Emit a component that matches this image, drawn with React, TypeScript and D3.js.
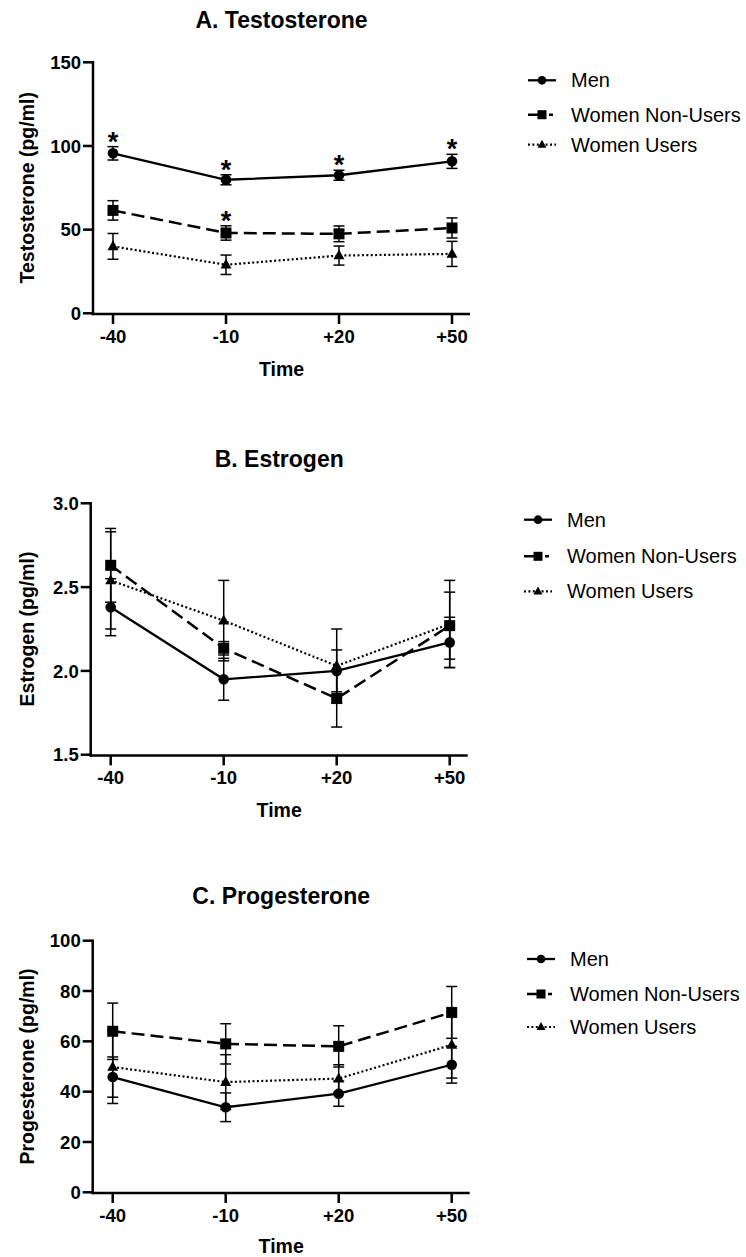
import React, { useEffect } from "react";
import * as d3 from "d3";

// ---------- DATA ----------
const times = ["-40", "-10", "+20", "+50"];
const groupNames = ["Men", "Women Non-Users", "Women Users"];

// A. Testosterone (pg/ml)
const testoMen = [95.6, 79.8, 82.5, 90.8];
const testoMenErr = [4.0, 3.0, 3.0, 4.2];
const testoNonUsers = [61.5, 48.0, 47.5, 51.0];
const testoNonUsersErr = [5.8, 4.3, 4.7, 6.0];
const testoUsers = [40.0, 29.0, 34.5, 35.5];
const testoUsersErr = [7.7, 5.8, 5.7, 7.5];
const testoMenStar = [true, true, true, true];
const testoNonUsersStar = [false, true, false, false];
const testoUsersStar = [false, false, false, false];
const testoTicks = [0, 50, 100, 150];

// B. Estrogen (pg/ml)
const estroMen = [2.38, 1.95, 2.0, 2.17];
const estroMenErr = [0.17, 0.125, 0.125, 0.15];
const estroNonUsers = [2.63, 2.135, 1.835, 2.27];
const estroNonUsersErr = [0.22, 0.04, 0.17, 0.2];
const estroUsers = [2.54, 2.3, 2.03, 2.28];
const estroUsersErr = [0.29, 0.24, 0.22, 0.26];
const estroTicks = [1.5, 2.0, 2.5, 3.0];

// C. Progesterone (pg/ml)
const progMen = [45.8, 33.8, 39.2, 50.7];
const progMenErr = [8.0, 5.7, 5.0, 7.3];
const progNonUsers = [64.0, 59.0, 58.0, 71.5];
const progNonUsersErr = [11.2, 8.0, 8.2, 10.3];
const progUsers = [49.8, 43.8, 45.2, 58.6];
const progUsersErr = [14.5, 10.9, 5.5, 13.2];
const progTicks = [0, 20, 40, 60, 80, 100];

const noStars = [false, false, false, false];

// ---------- STYLE / LAYOUT ----------
const FONT = "'Liberation Sans', Arial, Helvetica, sans-serif";
const INK = "#000";

const seriesStyles = [
  { dash: null as string | null, width: 2.3, marker: "circle" },
  { dash: "13,6", width: 2.5, marker: "square" },
  { dash: "2,2.4", width: 2.2, marker: "triangle" },
];

type Series = { mean: number[]; err: number[]; star: boolean[] };
type PanelDef = {
  title: string;
  yLabel: string;
  series: Series[];
  ticks: number[];
  tickFmt: (v: number) => string;
  axisX: number;
  yTop: number;
  yBottom: number;
  titleY: number;
  timeY: number;
  legendY: number[];
  legendX: number;
};

const panels: PanelDef[] = [
  {
    title: "A. Testosterone",
    yLabel: "Testosterone (pg/ml)",
    series: [
      { mean: testoMen, err: testoMenErr, star: testoMenStar },
      { mean: testoNonUsers, err: testoNonUsersErr, star: testoNonUsersStar },
      { mean: testoUsers, err: testoUsersErr, star: testoUsersStar },
    ],
    ticks: testoTicks,
    tickFmt: d3.format("d"),
    axisX: 93,
    yTop: 62.3,
    yBottom: 313.3,
    titleY: 28.3,
    timeY: 375.7,
    legendY: [87.3, 121.7, 151.7],
    legendX: 528,
  },
  {
    title: "B. Estrogen",
    yLabel: "Estrogen (pg/ml)",
    series: [
      { mean: estroMen, err: estroMenErr, star: noStars },
      { mean: estroNonUsers, err: estroNonUsersErr, star: noStars },
      { mean: estroUsers, err: estroUsersErr, star: noStars },
    ],
    ticks: estroTicks,
    tickFmt: d3.format(".1f"),
    axisX: 90.7,
    yTop: 503.3,
    yBottom: 754.7,
    titleY: 466.7,
    timeY: 816.7,
    legendY: [526.7, 563.3, 598.3],
    legendX: 524,
  },
  {
    title: "C. Progesterone",
    yLabel: "Progesterone (pg/ml)",
    series: [
      { mean: progMen, err: progMenErr, star: noStars },
      { mean: progNonUsers, err: progNonUsersErr, star: noStars },
      { mean: progUsers, err: progUsersErr, star: noStars },
    ],
    ticks: progTicks,
    tickFmt: d3.format("d"),
    axisX: 92.7,
    yTop: 940.7,
    yBottom: 1192.3,
    titleY: 904.3,
    timeY: 1252.5,
    legendY: [966, 1001, 1034],
    legendX: 527,
  },
];

function Marker({ kind, cx, cy, s = 1 }: { kind: string; cx: number; cy: number; s?: number }) {
  if (kind === "circle") return <circle cx={cx} cy={cy} r={5.3 * s} fill={INK} />;
  if (kind === "square") {
    const h = 5.5 * s;
    return <rect x={cx - h} y={cy - h} width={2 * h} height={2 * h} fill={INK} />;
  }
  const w = 5.5 * s;
  const path = d3.path();
  path.moveTo(cx, cy - 6 * s);
  path.lineTo(cx + w, cy + 3.8 * s);
  path.lineTo(cx - w, cy + 3.8 * s);
  path.closePath();
  return <path d={path.toString()} fill={INK} />;
}

function Panel({ p }: { p: PanelDef }) {
  const domain = [p.ticks[0], p.ticks[p.ticks.length - 1]];
  const y = d3.scaleLinear().domain(domain).range([p.yBottom, p.yTop]);
  const x = d3.scalePoint<string>().domain(times).range([p.axisX + 20, p.axisX + 359]);
  const axisEnd = p.axisX + 377;
  const axisY = p.yBottom + 0.7;
  const centerX = (p.axisX + axisEnd) / 2;
  const line = d3
    .line<number>()
    .x((_, i) => x(times[i]) as number)
    .y((d) => y(d));

  return (
    <g>
      <text x={centerX} y={p.titleY} textAnchor="middle" fontFamily={FONT} fontWeight="bold" fontSize={23} fill={INK}>
        {p.title}
      </text>
      {/* y axis */}
      <line x1={p.axisX} x2={p.axisX} y1={p.yTop - 1.2} y2={axisY + 1.2} stroke={INK} strokeWidth={2.5} />
      {p.ticks.map((t) => (
        <g key={t}>
          <line x1={p.axisX - 10} x2={p.axisX} y1={y(t)} y2={y(t)} stroke={INK} strokeWidth={2.5} />
          <text x={p.axisX - 12} y={y(t)} dy="0.36em" textAnchor="end" fontFamily={FONT} fontWeight="bold" fontSize={18.5} fill={INK}>
            {p.tickFmt(t)}
          </text>
        </g>
      ))}
      <text
        transform={`translate(34,${(p.yTop + p.yBottom) / 2}) rotate(-90)`}
        textAnchor="middle"
        fontFamily={FONT}
        fontWeight="bold"
        fontSize={19.5}
        fill={INK}
      >
        {p.yLabel}
      </text>
      {/* x axis */}
      <line x1={p.axisX - 1.2} x2={axisEnd} y1={axisY} y2={axisY} stroke={INK} strokeWidth={2.5} />
      {times.map((t) => (
        <g key={t}>
          <line x1={x(t)} x2={x(t)} y1={axisY} y2={axisY + 10} stroke={INK} strokeWidth={2.5} />
          <text x={x(t)} y={axisY + 28.7} textAnchor="middle" fontFamily={FONT} fontWeight="bold" fontSize={18.5} fill={INK}>
            {t}
          </text>
        </g>
      ))}
      <text x={centerX} y={p.timeY} textAnchor="middle" fontFamily={FONT} fontWeight="bold" fontSize={19.5} fill={INK}>
        Time
      </text>
      {/* error bars */}
      {p.series.map((s, si) =>
        s.mean.map((m, i) => {
          const cx = x(times[i]) as number;
          const top = y(m + s.err[i]);
          const bot = y(m - s.err[i]);
          return (
            <g key={`e${si}-${i}`} stroke={INK} strokeWidth={1.5}>
              <line x1={cx} x2={cx} y1={top} y2={bot} />
              <line x1={cx - 5.5} x2={cx + 5.5} y1={top} y2={top} />
              <line x1={cx - 5.5} x2={cx + 5.5} y1={bot} y2={bot} />
            </g>
          );
        })
      )}
      {/* lines */}
      {p.series.map((s, si) => (
        <path
          key={`l${si}`}
          d={line(s.mean) as string}
          fill="none"
          stroke={INK}
          strokeWidth={seriesStyles[si].width}
          strokeDasharray={seriesStyles[si].dash ?? undefined}
        />
      ))}
      {/* markers */}
      {p.series.map((s, si) =>
        s.mean.map((m, i) => (
          <Marker key={`m${si}-${i}`} kind={seriesStyles[si].marker} cx={x(times[i]) as number} cy={y(m)} />
        ))
      )}
      {/* significance asterisks */}
      {p.series.map((s, si) =>
        s.mean.map((m, i) =>
          s.star[i] ? (
            <text
              key={`s${si}-${i}`}
              x={x(times[i]) as number}
              y={y(m + s.err[i]) + 4}
              textAnchor="middle"
              fontFamily={FONT}
              fontWeight="bold"
              fontSize={27}
              fill={INK}
            >
              *
            </text>
          ) : null
        )
      )}
      {/* legend */}
      {groupNames.map((g, gi) => {
        const base = p.legendY[gi];
        const ly = base - 7;
        const x0 = p.legendX;
        const x1 = x0 + 28;
        return (
          <g key={g}>
            <line
              x1={x0}
              x2={x1}
              y1={ly}
              y2={ly}
              stroke={INK}
              strokeWidth={seriesStyles[gi].width}
              strokeDasharray={gi === 1 ? "12,9,4,20" : seriesStyles[gi].dash ?? undefined}
            />
            <Marker kind={seriesStyles[gi].marker} cx={(x0 + x1) / 2} cy={ly} s={0.82} />
            <text x={x0 + 43} y={base} fontFamily={FONT} fontSize={20} fill={INK}>
              {g}
            </text>
          </g>
        );
      })}
    </g>
  );
}

export default function App() {
  useEffect(() => {
    document.body.style.margin = "0";
  }, []);
  return (
    <svg width={746} height={1257} viewBox="0 0 746 1257" style={{ display: "block", background: "#fff" }}>
      <rect width={746} height={1257} fill="#fff" />
      {panels.map((p) => (
        <Panel key={p.title} p={p} />
      ))}
    </svg>
  );
}
